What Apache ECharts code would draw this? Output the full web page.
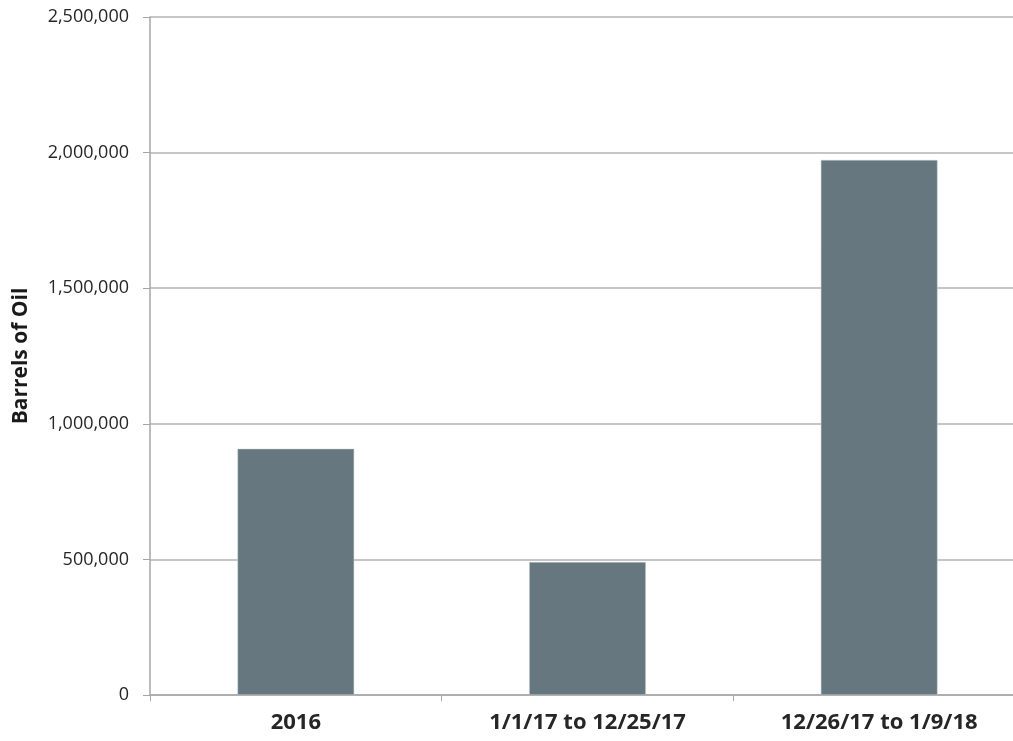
<!DOCTYPE html>
<html>
<head>
<meta charset="utf-8">
<script src="https://cdn.jsdelivr.net/npm/echarts@6/dist/echarts.min.js"></script>
<style>
  html, body { margin: 0; padding: 0; background: #fff; overflow: hidden; }
  /* the original is cropped on the right, so the chart is a bit wider than the window */
  #chart { width: 1025px; height: 741px; }
</style>
</head>
<body>
<div id="chart"></div>
<script>
const categories = ["2016", "1/1/17 to 12/25/17", "12/26/17 to 1/9/18"];
const barrels = [908000, 490000, 1973000];
const yTicks = [0, 500000, 1000000, 1500000, 2000000, 2500000];

const fontFamily = "'Open Sans', 'Liberation Sans', sans-serif";

const chart = echarts.init(document.getElementById("chart"));
chart.setOption({
  animation: false,
  grid: { left: 150, right: 0, top: 17, bottom: 46, containLabel: false },
  xAxis: {
    type: "category",
    data: categories,
    axisLine: { show: true, lineStyle: { color: "#a6a6a6", width: 1.5 } },
    axisTick: { show: true, alignWithLabel: false, length: 6, lineStyle: { color: "#a6a6a6" } },
    axisLabel: {
      color: "#262626",
      fontFamily: fontFamily,
      fontSize: 22,
      fontWeight: "bold",
      margin: 17
    }
  },
  yAxis: {
    type: "value",
    min: yTicks[0],
    max: yTicks[yTicks.length - 1],
    interval: yTicks[1] - yTicks[0],
    name: "Barrels of Oil",
    nameLocation: "middle",
    nameGap: 118,
    nameRotate: 90,
    nameTextStyle: {
      color: "#1a1a1a",
      fontFamily: fontFamily,
      fontSize: 21,
      fontWeight: "bold"
    },
    axisLine: { show: true, lineStyle: { color: "#a6a6a6", width: 1.5 } },
    axisTick: { show: true, length: 7, lineStyle: { color: "#a6a6a6" } },
    splitLine: { show: true, lineStyle: { color: "#b3b3b3", width: 1.5 } },
    axisLabel: {
      color: "#262626",
      fontFamily: fontFamily,
      fontSize: 18,
      margin: 21,
      formatter: v => v.toLocaleString("en-US")
    }
  },
  series: [{
    type: "bar",
    data: barrels,
    barWidth: "40%",
    itemStyle: { color: "#66777f", borderColor: "#c9ced1", borderWidth: 0.5 }
  }]
});
</script>
</body>
</html>
